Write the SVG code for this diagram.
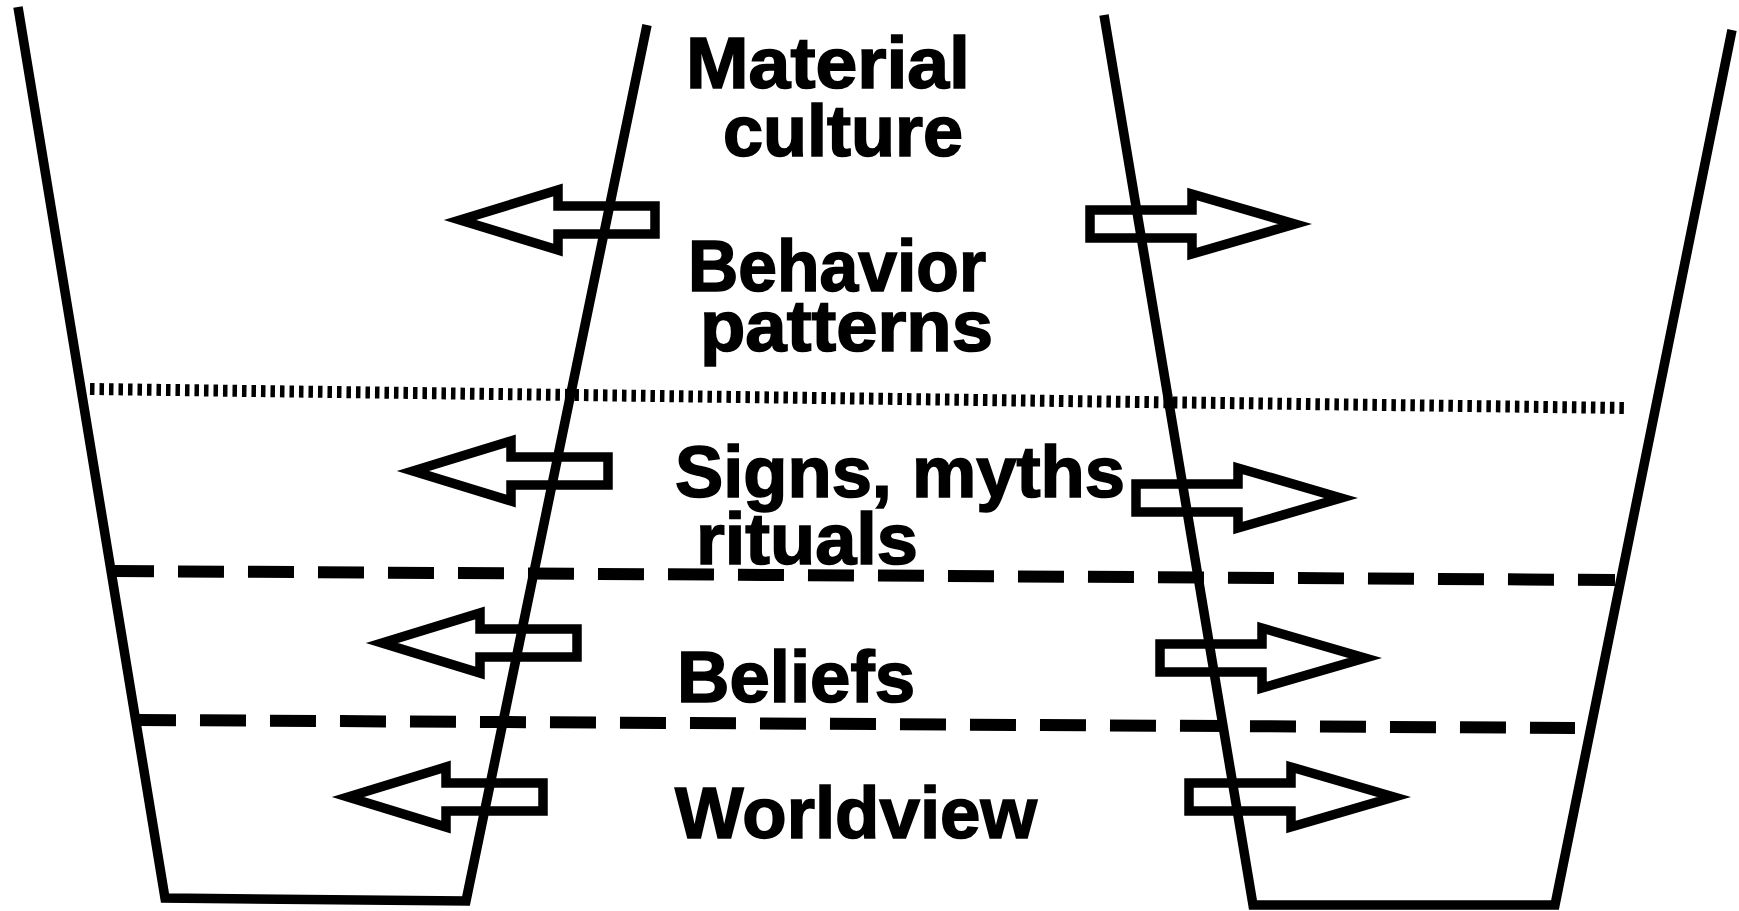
<svg xmlns="http://www.w3.org/2000/svg" width="1739" height="911" viewBox="0 0 1739 911">
<style>
.cup{fill:none;stroke:#000;stroke-width:9.5;stroke-linejoin:miter}
.dot{fill:none;stroke:#000;stroke-width:12;stroke-dasharray:4.5 5}
.dash{fill:none;stroke:#000;stroke-width:12;stroke-dasharray:46 24}
.arr{fill:none;stroke:#000;stroke-width:9.5;stroke-linejoin:miter;stroke-miterlimit:10}
.lbl{font-family:"Liberation Sans",Arial,sans-serif;font-weight:bold;font-size:72px;fill:#000;stroke:#000;stroke-width:1.6}
</style>
<defs>
<path id="la" d="M0,0 L98,-30 L98,-14 L195,-14 L195,14 L98,14 L98,30 Z"/>
<path id="ra" d="M0,0 L-103,-30 L-103,-14 L-205,-14 L-205,14 L-103,14 L-103,30 Z"/>
</defs>
<rect width="1739" height="911" fill="#fff"/>
<g id="cup-left"><polyline class="cup" points="18,7 165,898 466,901 647,25"/></g>
<g id="cup-right"><polyline class="cup" points="1104,15 1253,905 1555,905 1732,30"/></g>
<g id="levels">
<line class="dot" x1="90" y1="389" x2="1628" y2="408"/>
<line class="dash" x1="114" y1="571" x2="1615" y2="580" stroke-dashoffset="6"/>
<line class="dash" x1="138" y1="720" x2="1575" y2="728" stroke-dashoffset="8"/>
</g>
<g id="connectors">
<use href="#la" class="arr" x="460" y="220"/>
<use href="#la" class="arr" x="413" y="471"/>
<use href="#la" class="arr" x="382" y="643"/>
<use href="#la" class="arr" x="348" y="797"/>
<use href="#ra" class="arr" x="1295" y="224"/>
<use href="#ra" class="arr" x="1341" y="498"/>
<use href="#ra" class="arr" x="1365" y="658"/>
<use href="#ra" class="arr" x="1394" y="797"/>
</g>
<g id="material-culture">
<text class="lbl" x="686" y="88" textLength="284" lengthAdjust="spacingAndGlyphs">Material</text>
<text class="lbl" x="723" y="156" textLength="240" lengthAdjust="spacingAndGlyphs">culture</text>
</g>
<g id="behavior-patterns">
<text class="lbl" x="688" y="291" textLength="298" lengthAdjust="spacingAndGlyphs">Behavior</text>
<text class="lbl" x="700" y="351" textLength="293" lengthAdjust="spacingAndGlyphs">patterns</text>
</g>
<g id="signs-myths-rituals">
<text class="lbl" x="675" y="497" textLength="450" lengthAdjust="spacingAndGlyphs">Signs, myths</text>
<text class="lbl" x="696" y="564" textLength="222" lengthAdjust="spacingAndGlyphs">rituals</text>
</g>
<g id="beliefs"><text class="lbl" x="677" y="702" textLength="238" lengthAdjust="spacingAndGlyphs">Beliefs</text></g>
<g id="worldview"><text class="lbl" x="675" y="838" textLength="362" lengthAdjust="spacingAndGlyphs">Worldview</text></g>
</svg>
